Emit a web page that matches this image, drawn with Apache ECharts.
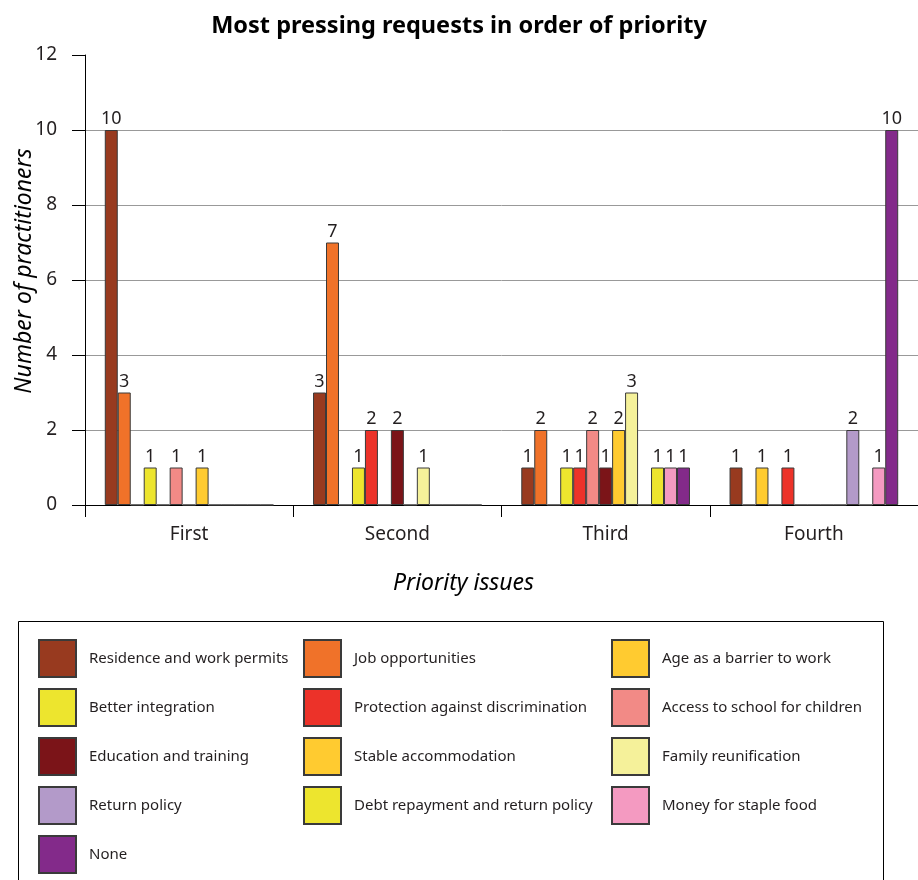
<!DOCTYPE html>
<html>
<head>
<meta charset="utf-8">
<script src="https://cdn.jsdelivr.net/npm/echarts@6/dist/echarts.min.js"></script>
<style>
  html, body { margin: 0; padding: 0; background: #fff; }
  #chart { width: 918px; height: 880px; }
</style>
</head>
<body>
<div id="chart"></div>
<script>
// Priority rounds on the category axis
var categories = ['First', 'Second', 'Third', 'Fourth'];

// Requests, in legend order (row by row)
var seriesNames = [
  'Residence and work permits',
  'Job opportunities',
  'Age as a barrier to work',
  'Better integration',
  'Protection against discrimination',
  'Access to school for children',
  'Education and training',
  'Stable accommodation',
  'Family reunification',
  'Return policy',
  'Debt repayment and return policy',
  'Money for staple food',
  'None'
];

// Number of practitioners per priority round
var residencePermits  = [10, 3, 1, 1];
var jobOpportunities  = [3, 7, 2, 0];
var ageBarrier        = [0, 0, 0, 1];
var betterIntegration = [1, 1, 1, 0];
var protection        = [0, 2, 1, 1];
var schoolAccess      = [1, 0, 2, 0];
var education         = [0, 2, 1, 0];
var stableHousing     = [1, 0, 2, 0];
var familyReunion     = [0, 1, 3, 0];
var returnPolicy      = [0, 0, 0, 2];
var debtRepayment     = [0, 0, 1, 0];
var stapleFood        = [0, 0, 1, 1];
var noneValues        = [0, 0, 1, 10];

var seriesValues = [
  residencePermits, jobOpportunities, ageBarrier, betterIntegration,
  protection, schoolAccess, education, stableHousing, familyReunion,
  returnPolicy, debtRepayment, stapleFood, noneValues
];

var seriesColors = [
  '#983A1F', '#F07229', '#FFCB30', '#EDE52E', '#EC3229', '#F28A86', '#7B1418',
  '#FFCB30', '#F5F19A', '#B39AC9', '#EDE52E', '#F49AC1', '#832A8A'
];

// Y-axis ticks
var yTicks = [0, 2, 4, 6, 8, 10, 12];

var FONT = '"Noto Sans", "Open Sans", sans-serif';
var TEXT = '#231F20';

var chart = echarts.init(document.getElementById('chart'), null, { renderer: 'canvas' });

var series = seriesNames.map(function (name, i) {
  return {
    name: name,
    type: 'bar',
    data: seriesValues[i],
    barGap: '0%',
    barCategoryGap: '19%',
    itemStyle: { color: seriesColors[i], borderColor: '#3a3a3a', borderWidth: 1 },
    label: {
      show: true,
      position: 'top',
      distance: 2,
      fontFamily: FONT,
      fontSize: 18,
      color: TEXT,
      formatter: function (p) { return p.value ? String(p.value) : ''; }
    },
    emphasis: { disabled: true },
    silent: true
  };
});

// three legend columns, each listing every third request
function legendColumn(col, left) {
  var names = seriesNames.filter(function (_, i) { return i % 3 === col; });
  return {
    data: names,
    orient: 'vertical',
    left: left,
    top: 639,
    padding: 0,
    height: 241,
    itemWidth: 37,
    itemHeight: 37,
    itemGap: 10,
    icon: 'rect',
    selectedMode: false,
    textStyle: {
      fontFamily: FONT,
      fontSize: 15,
      color: TEXT,
      padding: [8, 0, 0, 8]
    }
  };
}

chart.setOption({
  animation: false,
  title: {
    text: 'Most pressing requests in order of priority',
    left: 'center',
    top: 9,
    textStyle: { fontFamily: FONT, fontSize: 23.5, fontWeight: 'bold', color: '#000' }
  },
  legend: [legendColumn(0, 38), legendColumn(1, 303), legendColumn(2, 611)],
  graphic: [{
    type: 'rect',
    shape: { x: 18.5, y: 621.5, width: 865, height: 300 },
    style: { fill: 'none', stroke: '#000', lineWidth: 1 },
    z: -1,
    silent: true
  }],
  grid: { left: 85, right: 0, top: 55, bottom: 375, containLabel: false, outerBoundsMode: 'none' },
  xAxis: {
    type: 'category',
    data: categories,
    name: 'Priority issues',
    nameLocation: 'middle',
    nameMoveOverlap: false,
    nameGap: 67,
    nameTextStyle: { fontFamily: FONT, fontSize: 23, fontStyle: 'italic', color: '#000', padding: [0, 76, 0, 0] },
    axisLine: { lineStyle: { color: '#000', width: 1 } },
    axisTick: { show: true, length: 12, lineStyle: { color: '#000' } },
    axisLabel: { fontFamily: FONT, fontSize: 19, color: TEXT, margin: 20 }
  },
  yAxis: {
    type: 'value',
    min: yTicks[0],
    max: yTicks[yTicks.length - 1],
    interval: 2,
    name: 'Number of practitioners',
    nameLocation: 'middle',
    nameMoveOverlap: false,
    nameGap: 49,
    nameTextStyle: { fontFamily: FONT, fontSize: 23, fontStyle: 'italic', color: '#000', padding: [0, 0, 0, 18] },
    axisLine: { show: true, lineStyle: { color: '#000', width: 1 } },
    axisTick: { show: true, length: 13, lineStyle: { color: '#000' } },
    axisLabel: { fontFamily: FONT, fontSize: 19, color: TEXT, margin: 28 },
    splitLine: {
      show: true,
      lineStyle: {
        width: 1,
        color: ['#999', '#999', '#999', '#999', '#999', '#999', 'rgba(0,0,0,0)']
      }
    }
  },
  series: series
});
</script>
</body>
</html>
